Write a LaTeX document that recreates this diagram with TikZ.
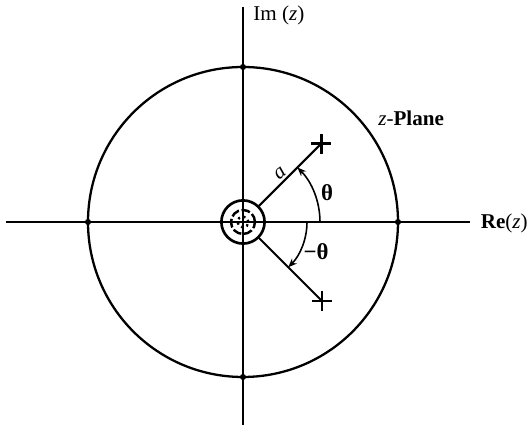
\documentclass[tikz,border=0pt]{standalone}
\usepackage{fontspec}
\setmainfont{Liberation Serif}
\usepackage{tikz}
\usetikzlibrary{arrows.meta, positioning}

\begin{document}
\begin{tikzpicture}[x=0.02cm, y=0.02cm,
  axis/.style={line width=0.95pt},
  rim/.style={line width=1.3pt},
  ray/.style={line width=1.2pt},
  angarr/.style={line width=0.9pt, -{Stealth[length=5pt, width=4pt]}},
  pole/.style={inner sep=0pt, minimum size=0pt},
  dot/.style={circle, fill, inner sep=0pt, minimum size=3.5pt},
  lbl/.style={font=\fontsize{12}{14}\selectfont, inner sep=0pt}
]
  \useasboundingbox (-243,-203) rectangle (286,222);

  % ── Axes ──
  \coordinate (xl) at (-237,0);
  \coordinate (xr) at (227,0);
  \coordinate (yt) at (0,215);
  \coordinate (yb) at (0,-203);
  \draw[axis] (xl) -- (xr);
  \draw[axis] (yb) -- (yt);
  \node[lbl, anchor=west] (im) at (10,207) {Im (\textit{z})};
  \node[lbl, anchor=east] (re) at (285,-1) {\textbf{Re}(\textit{z})};

  % ── Unit circle ──
  \draw[rim] (0,0) circle[radius=155];
  \foreach \a in {0,90,180,270}
    \node[dot] at (\a:155) {};
  \node[lbl, anchor=west] (zp) at (135,104) {\textit{z}-\textbf{Plane}};

  % ── Region near the origin ──
  \node[circle, draw, line width=1.5pt, inner sep=0pt, minimum size=43.2*0.02cm] (roc) at (0,0) {};
  \draw[line width=1.4pt, dash pattern=on 5pt off 1.5pt] (0,0) circle[radius=12];
  \draw[line width=1.3pt, dotted] (0,0) circle[radius=5.5];

  % ── Poles ──
  \node[pole] (p1) at (45:111) {};
  \node[pole] (p2) at (-45:112) {};
  \foreach \p in {p1,p2} {
    \draw[ray] ([xshift=-10*0.02cm]\p.center) -- ([xshift=10*0.02cm]\p.center);
    \draw[ray] ([yshift=-10*0.02cm]\p.center) -- ([yshift=10*0.02cm]\p.center);
  }
  \draw[ray] (roc) -- (p1.center);
  \draw[ray] (roc) -- (p2.center);
  \node[lbl, rotate=40] (amag) at (37,49) {\textit{a}};

  % ── Angles ──
  \draw[angarr] (77,0) arc[start angle=0, end angle=45, radius=77];
  \draw[angarr] (64,0) arc[start angle=0, end angle=-45, radius=64];
  \node[lbl, font=\fontsize{13}{15}\selectfont] (th) at (84,29) {\textbf{θ}};
  \node[lbl, font=\fontsize{13}{15}\selectfont] (mth) at (73,-30) {\textbf{−θ}};

\end{tikzpicture}
\end{document}
